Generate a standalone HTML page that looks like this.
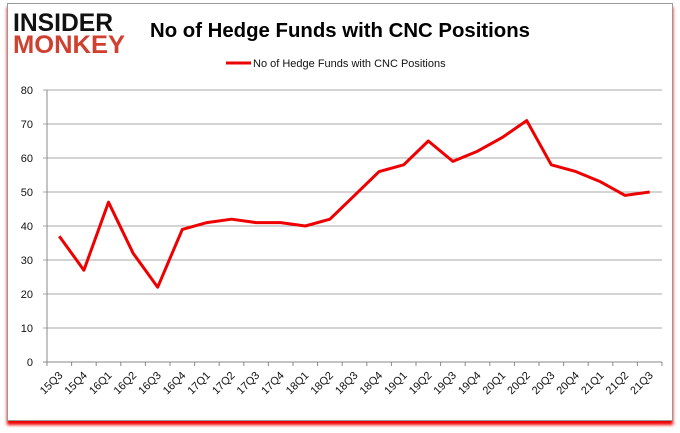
<!DOCTYPE html>
<html><head><meta charset="utf-8"><style>
body{margin:0;width:680px;height:433px;background:#fff;overflow:hidden;font-family:"Liberation Sans",sans-serif}
#frame{position:absolute;left:7px;top:3px;width:664px;height:416px;border:1px solid #999;box-shadow:0 4px 3px #e00;background:#fff}
</style></head><body>
<div id="frame"></div>
<svg width="680" height="433" style="position:absolute;left:0;top:0">
<g font-family="'Liberation Sans',sans-serif" font-weight="bold">
<text x="13" y="31" font-size="25" fill="#111" textLength="100" lengthAdjust="spacingAndGlyphs">INSIDER</text>
<text x="13" y="53" font-size="25" fill="#d04030" textLength="112" lengthAdjust="spacingAndGlyphs">MONKEY</text>
</g>
<text x="150" y="37" font-size="20" font-weight="bold" fill="#000" textLength="380" lengthAdjust="spacingAndGlyphs">No of Hedge Funds with CNC Positions</text>
<g>
<line x1="226" y1="63" x2="251" y2="63" stroke="#e00" stroke-width="3"/>
<text x="253" y="67" font-size="11" fill="#111">No of Hedge Funds with CNC Positions</text>
</g>
<g id="grid"></g><g id="axes"></g>
<polyline id="line" fill="none" stroke="#ee0000" stroke-width="3" stroke-linejoin="round"/>
</svg>
<script>
const categories=["15Q3","15Q4","16Q1","16Q2","16Q3","16Q4","17Q1","17Q2","17Q3","17Q4","18Q1","18Q2","18Q3","18Q4","19Q1","19Q2","19Q3","19Q4","20Q1","20Q2","20Q3","20Q4","21Q1","21Q2","21Q3"];
const values=[37,27,47,32,22,39,41,42,41,41,40,42,49,56,58,65,59,62,66,71,58,56,53,49,50];
const yTicks=[0,10,20,30,40,50,60,70,80];
const L=47,R=662,T=90,B=362,ymax=80;
const bw=(R-L)/categories.length;
const x=i=>L+bw*(i+0.5), y=v=>B-(B-T)*v/ymax;
const ns="http://www.w3.org/2000/svg";
const g=document.getElementById('grid'),a=document.getElementById('axes');
function mk(p,tag,at,txt){const e=document.createElementNS(ns,tag);for(const k in at)e.setAttribute(k,at[k]);if(txt!=null)e.textContent=txt;p.appendChild(e);return e;}
yTicks.forEach(t=>{
 const l=mk(g,'line',{x1:L-4,x2:R,y1:y(t),y2:y(t),stroke:t===0?'#888':'#aaa','stroke-width':1});
 
 
 const tx=mk(a,'text',{x:L-14,y:y(t)+4,'font-size':11,'text-anchor':'end',fill:'#111'},t);
 
 
});
mk(a,'line',{x1:L,x2:L,y1:T,y2:B,stroke:'#888'});
categories.forEach((c,i)=>{
 mk(a,'line',{x1:L+bw*(i+1),x2:L+bw*(i+1),y1:B,y2:B+4,stroke:'#888'});
 const tx=mk(a,'text',{x:x(i)+4,y:B+14,'font-size':11,'text-anchor':'end',fill:'#111',transform:`rotate(-45 ${x(i)+4} ${B+14})`},c);
 
 
});
mk(a,'line',{x1:L,x2:L,y1:B,y2:B+4,stroke:'#888'});
document.getElementById('line').setAttribute('points',values.map((v,i)=>x(i)+','+y(v)).join(' '));
</script>
</body></html>
